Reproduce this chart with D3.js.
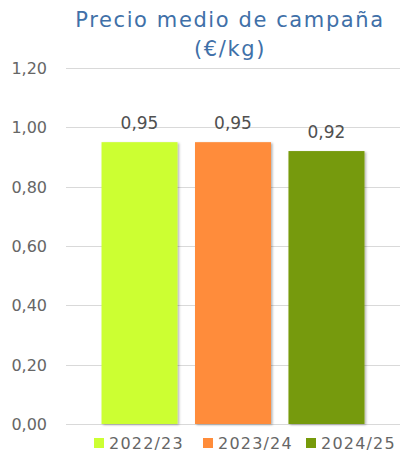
<!DOCTYPE html>
<html><head><meta charset="utf-8">
<script src="https://cdn.jsdelivr.net/npm/d3@7"></script>
<style>body{margin:0;background:#fff}svg{display:block}</style>
</head><body>
<svg id="c" width="400" height="455"></svg>
<script>
const series = ["2022/23", "2023/24", "2024/25"];
const values = [0.95, 0.95, 0.92];
const colors = ["#CCFF33", "#FF8C3A", "#769A0A"];
const yTicks = [0, 0.2, 0.4, 0.6, 0.8, 1.0, 1.2];
const titleLines = ["Precio medio de campaña", "(€/kg)"];

const svg = d3.select("#c");
const font = "'DejaVu Sans', sans-serif";
const fmt = v => d3.format(".2f")(v).replace(".", ",");

const y = d3.scaleLinear().domain([0, 1.2]).range([424, 68]);
const x = d3.scaleBand().domain(series).range([66, 400]).paddingInner(0.187).paddingOuter(0.38);

// gridlines
svg.append("g").selectAll("line").data(yTicks).join("line")
  .attr("x1", 66).attr("x2", 400)
  .attr("y1", d => Math.round(y(d)) + 0.5).attr("y2", d => Math.round(y(d)) + 0.5)
  .attr("stroke", "#D9D9D9").attr("stroke-width", 1.2);

// y axis labels
const yAxis = d3.axisLeft(y).tickValues(yTicks).tickFormat(fmt).tickSize(0).tickPadding(0);
const ya = svg.append("g").attr("transform", "translate(47,0)").call(yAxis);
ya.select(".domain").remove();
ya.selectAll("text").attr("font-family", font).attr("font-size", 16).attr("fill", "#666").attr("dy", "0.35em");

// shadow filter
const defs = svg.append("defs");
const f = defs.append("filter").attr("id", "sh").attr("x", "-10%").attr("y", "-10%").attr("width", "130%").attr("height", "130%");
f.append("feDropShadow").attr("dx", 1.5).attr("dy", 1).attr("stdDeviation", 1.2).attr("flood-color", "#000").attr("flood-opacity", 0.3);

// bars
svg.append("g").selectAll("rect").data(series).join("rect")
  .attr("x", d => x(d)).attr("width", x.bandwidth())
  .attr("y", (d, i) => y(values[i])).attr("height", (d, i) => y(0) - y(values[i]))
  .attr("fill", (d, i) => colors[i]).attr("filter", "url(#sh)");

// value labels
svg.append("g").selectAll("text").data(series).join("text")
  .attr("x", d => x(d) + x.bandwidth() / 2)
  .attr("y", (d, i) => y(values[i]) - 13)
  .attr("text-anchor", "middle").attr("font-family", font).attr("font-size", 17).attr("fill", "#505050")
  .text((d, i) => fmt(values[i]));

// title
svg.append("g").selectAll("text").data(titleLines).join("text")
  .attr("x", 230).attr("y", (d, i) => 27 + i * 29)
  .attr("text-anchor", "middle").attr("font-family", font).attr("font-size", 21)
  .attr("letter-spacing", 1.6).attr("fill", "#4070A8")
  .text(d => d);

// legend
const legX = [94, 203, 306];
const lg = svg.append("g").selectAll("g").data(series).join("g")
  .attr("transform", (d, i) => `translate(${legX[i]},443)`);
lg.append("rect").attr("x", 0).attr("y", -5).attr("width", 10).attr("height", 10).attr("fill", (d, i) => colors[i]);
lg.append("text").attr("x", 15).attr("y", 0).attr("dy", "0.35em")
  .attr("font-family", font).attr("font-size", 16).attr("letter-spacing", 1.2).attr("fill", "#666").text(d => d);
</script>
</body></html>
